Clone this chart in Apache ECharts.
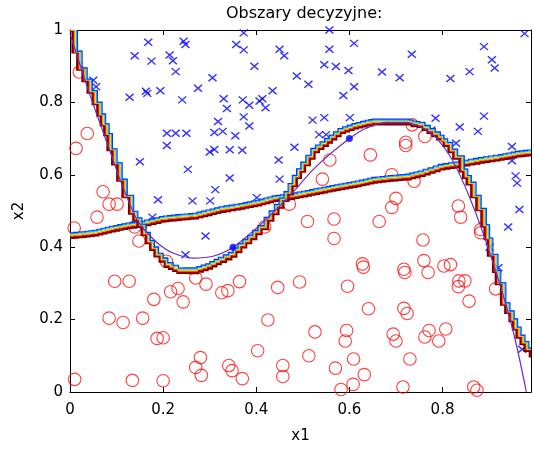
<!DOCTYPE html>
<html><head><meta charset="utf-8">
<script src="https://cdn.jsdelivr.net/npm/echarts@6/dist/echarts.min.js"></script>
<style>html,body{margin:0;padding:0;background:#fff}#c{width:534px;height:449px}</style>
</head><body><div id="c"></div>
<script>
// ---- tick labels ----
const xTickValues = [0, 0.2, 0.4, 0.6, 0.8];
const yTickValues = [0, 0.2, 0.4, 0.6, 0.8, 1];

// ---- class "x" samples (blue crosses) ----
const crossX1 = [0.168,0.244,0.248,0.357,0.139,0.175,0.214,0.221,0.227,0.306,0.050,0.056,0.275,0.128,0.163,0.166,0.194,0.241,0.330,0.337,0.318,0.208,0.227,0.250,0.310,0.328,0.355,0.208,0.300,0.310,0.343,0.150,0.253,0.343,0.312,0.189,0.263,0.301,0.177,0.291,0.248,
0.373,0.557,0.610,0.373,0.450,0.460,0.557,0.396,0.546,0.571,0.598,0.670,0.708,0.734,0.487,0.512,0.610,0.435,0.587,0.371,0.385,0.407,0.413,0.420,0.373,0.385,0.521,0.546,0.601,0.535,0.550,0.482,0.370,0.448,0.450,0.401,
0.976,0.889,0.906,0.912,0.858,0.817,0.785,0.889,0.776,0.837,0.876,0.829,0.949,0.949,0.957,0.960,0.965,0.941,0.920,0.971,0.901];
const crossX2 = [0.966,0.969,0.960,0.960,0.929,0.914,0.931,0.915,0.885,0.868,0.861,0.843,0.839,0.814,0.831,0.825,0.832,0.807,0.810,0.783,0.747,0.715,0.715,0.715,0.717,0.720,0.708,0.681,0.663,0.670,0.669,0.636,0.615,0.591,0.559,0.531,0.528,0.528,0.483,0.431,0.379,
0.992,1.0,0.963,0.945,0.947,0.929,0.947,0.900,0.904,0.899,0.888,0.884,0.868,0.933,0.873,0.850,0.843,0.832,0.819,0.807,0.792,0.804,0.810,0.785,0.760,0.735,0.751,0.758,0.758,0.711,0.711,0.676,0.668,0.641,0.588,0.537,
0.990,0.954,0.918,0.895,0.885,0.866,0.756,0.762,0.724,0.732,0.720,0.687,0.678,0.639,0.597,0.577,0.504,0.456,0.343,0.118,0.400];

// ---- class "o" samples (red circles) ----
const circleX1 = [0.020,0.037,0.013,0.071,0.084,0.101,0.058,0.009,0.139,0.148,0.207,0.096,0.127,0.270,0.292,0.232,0.216,0.180,0.243,0.326,0.339,0.364,0.084,0.114,0.156,0.187,0.200,0.280,0.270,0.282,0.341,0.348,0.370,0.010,0.134,0.200,
0.446,0.493,0.596,0.628,0.630,0.717,0.719,0.641,0.717,0.724,0.425,0.526,0.594,0.591,0.694,0.700,0.403,0.513,0.609,0.730,0.457,0.457,0.570,0.632,0.608,0.582,0.715,
0.760,0.769,0.803,0.817,0.835,0.848,0.834,0.857,0.771,0.762,0.807,0.792,0.867,0.874,0.914,
0.735,0.721,0.721,0.558,0.645,0.542,0.691,0.739,0.700,0.691,0.471,0.567,0.510,0.664,0.567,0.418,0.762,0.834,0.839,0.882,0.882,0.758];
const circleX2 = [0.884,0.714,0.673,0.553,0.519,0.519,0.483,0.453,0.456,0.417,0.361,0.306,0.306,0.315,0.298,0.286,0.277,0.256,0.249,0.274,0.280,0.305,0.204,0.192,0.204,0.148,0.150,0.095,0.068,0.046,0.073,0.059,0.037,0.035,0.032,0.031,
0.289,0.304,0.292,0.354,0.345,0.339,0.330,0.230,0.231,0.217,0.199,0.166,0.170,0.141,0.160,0.141,0.114,0.100,0.091,0.091,0.073,0.043,0.066,0.048,0.021,0.007,0.014,
0.363,0.330,0.348,0.352,0.307,0.307,0.291,0.251,0.170,0.152,0.174,0.141,0.014,0.005,0.285,
0.738,0.690,0.681,0.641,0.655,0.588,0.600,0.582,0.535,0.510,0.519,0.478,0.471,0.471,0.424,0.456,0.706,0.514,0.483,0.449,0.440,0.420];

// ---- nonlinear classifier decision boundary (contour band) ----
const sBoundX1 = [0.000,0.011,0.021,0.032,0.043,0.054,0.064,0.079,0.086,0.096,0.107,0.118,0.132,0.150,0.168,0.186,0.207,0.232,0.264,0.293,0.321,0.343,0.364,0.385,0.407,0.421,0.443,0.464,0.482,0.500,0.521,0.550,0.578,0.607,0.635,0.650,0.690,0.721,0.735,0.749,0.771,0.792,0.807,0.828,0.842,0.857,0.867,0.878,0.889,0.896,0.903,0.914,0.920,0.931,0.949,0.964,0.981,0.992];
const sBoundX2 = [1.000,0.940,0.893,0.862,0.830,0.798,0.766,0.712,0.670,0.631,0.586,0.541,0.496,0.460,0.415,0.379,0.352,0.336,0.336,0.348,0.366,0.380,0.405,0.428,0.455,0.478,0.514,0.550,0.595,0.631,0.668,0.695,0.722,0.735,0.744,0.747,0.747,0.747,0.742,0.739,0.722,0.704,0.685,0.649,0.613,0.577,0.541,0.505,0.460,0.424,0.379,0.334,0.300,0.244,0.199,0.154,0.118,0.100];

// ---- linear classifier decision boundary (contour band) ----
const lBoundX1 = [0.000,0.025,0.050,0.086,0.121,0.150,0.193,0.228,0.264,0.293,0.321,0.364,0.400,0.435,0.471,0.507,0.542,0.578,0.614,0.649,0.685,0.721,0.749,0.792,0.835,0.878,0.921,0.957,0.992];
const lBoundX2 = [0.433,0.436,0.440,0.451,0.460,0.465,0.478,0.483,0.487,0.496,0.505,0.514,0.523,0.535,0.541,0.550,0.559,0.568,0.576,0.586,0.591,0.595,0.604,0.622,0.631,0.641,0.649,0.658,0.663];

// ---- true boundary (purple curve) ----
const trueX1 = [0.000,0.020,0.043,0.065,0.086,0.105,0.125,0.143,0.164,0.193,0.221,0.264,0.307,0.350,0.407,0.471,0.528,0.600,0.635,0.680,0.720,0.760,0.785,0.821,0.860,0.903,0.949,0.980];
const trueX2 = [0.990,0.910,0.820,0.740,0.665,0.595,0.530,0.478,0.442,0.406,0.384,0.370,0.375,0.400,0.460,0.541,0.622,0.700,0.728,0.745,0.745,0.728,0.704,0.641,0.532,0.379,0.181,0.000];

// ---- highlighted reference points ----
const refX1 = [0.35, 0.60];
const refX2 = [0.40, 0.70];

const XMAX = 0.99;
const FONT = 'DejaVu Sans';
const pair = (a, b) => a.map((v, i) => [v, b[i]]);
const isTick = (v, list) => list.some(t => Math.abs(t - v) < 1e-6);

const bandColors = ['#7a0000', '#d40000', '#ff8a00', '#e6e600', '#00c8ff', '#0033ff'];
const bandOffsets = [-2.6, -1.5, -0.5, 0.5, 1.5, 2.5];
const bandWidths = [2.4, 1.1, 1.1, 1.1, 1.1, 1.1];
const STAIR_PX = 4.5; // pixel size of the contour grid steps

function bandSeries(xs, ys) {
  return {
    type: 'custom', coordinateSystem: 'cartesian2d', xAxisIndex: 0, yAxisIndex: 0,
    data: pair(xs, ys), encode: { x: 0, y: 1 }, z: 4, silent: true, clip: true,
    renderItem: function (params, api) {
      if (params.dataIndex !== 0) return null;
      const pts = xs.map((x, i) => api.coord([x, ys[i]]));
      const n = pts.length;
      const normals = pts.map((p, i) => {
        const a = pts[Math.max(0, i - 1)], b = pts[Math.min(n - 1, i + 1)];
        const tx = b[0] - a[0], ty = b[1] - a[1];
        const L = Math.hypot(tx, ty) || 1;
        return [ty / L, -tx / L];
      });
      const children = bandColors.map((c, k) => {
        const off = bandOffsets[k];
        const q = pts.map((p, i) => [p[0] + normals[i][0] * off, p[1] + normals[i][1] * off]);
        const path = [q[0]];
        let prev = q[0];
        for (let i = 1; i < n; i++) {
          const a = q[i - 1], b = q[i];
          const m = Math.max(1, Math.round(Math.abs(b[0] - a[0]) / STAIR_PX));
          for (let j = 1; j <= m; j++) {
            const t = j / m;
            const p = [a[0] + (b[0] - a[0]) * t, a[1] + (b[1] - a[1]) * t];
            path.push([p[0], prev[1]], p);
            prev = p;
          }
        }
        return { type: 'polyline', shape: { points: path }, style: { stroke: c, fill: null, lineWidth: bandWidths[k] }, silent: true };
      });
      return { type: 'group', children: children };
    }
  };
}

const axisCommon = {
  type: 'value',
  axisLine: { show: true, onZero: false, lineStyle: { color: '#000', width: 1 } },
  axisTick: { show: true, inside: true, length: 5, lineStyle: { color: '#000' } },
  splitLine: { show: false }
};

const chart = echarts.init(document.getElementById('c'), null, { renderer: 'canvas' });
chart.setOption({
  animation: false,
  backgroundColor: '#fff',
  title: {
    text: 'Obszary decyzyjne:', left: 221, top: 1,
    textStyle: { fontFamily: FONT, fontSize: 16, fontWeight: 'normal', color: '#000' }
  },
  grid: { left: 70, top: 30, width: 463, height: 370, containLabel: false },
  xAxis: [
    Object.assign({}, axisCommon, {
      min: 0, max: XMAX, interval: 0.2, position: 'bottom',
      axisLabel: { color: '#000', fontFamily: FONT, fontSize: 15, margin: 11,
        formatter: v => isTick(v, xTickValues) ? String(+v.toFixed(1)) : '' },
      name: 'x1', nameLocation: 'middle', nameGap: 37,
      nameTextStyle: { fontFamily: FONT, fontSize: 15, color: '#000' }
    }),
    Object.assign({}, axisCommon, {
      min: 0, max: XMAX, interval: 0.2, position: 'top', axisLabel: { show: false }
    })
  ],
  yAxis: [
    Object.assign({}, axisCommon, {
      min: 0, max: 1, interval: 0.2, position: 'left',
      axisLabel: { color: '#000', fontFamily: FONT, fontSize: 15, margin: 7,
        formatter: v => isTick(v, yTickValues) ? String(+v.toFixed(1)) : '' },
      name: 'x2', nameLocation: 'middle', nameGap: 43, nameRotate: 90,
      nameTextStyle: { fontFamily: FONT, fontSize: 15, color: '#000' }
    }),
    Object.assign({}, axisCommon, {
      min: 0, max: 1, interval: 0.2, position: 'right', axisLabel: { show: false }
    })
  ],
  series: [
    {
      type: 'scatter', name: 'o', data: pair(circleX1, circleX2), z: 2,
      symbol: 'circle', symbolSize: 12.5,
      itemStyle: { color: 'rgba(0,0,0,0)', borderColor: '#ff1010', borderWidth: 1.1 }
    },
    {
      type: 'scatter', name: 'x', data: pair(crossX1, crossX2), z: 3,
      symbol: 'path://M0,0L10,10M10,0L0,10', symbolSize: [8, 7],
      itemStyle: { color: 'rgba(0,0,0,0)', borderColor: '#0000ff', borderWidth: 1.4 }
    },
    bandSeries(lBoundX1, lBoundX2),
    bandSeries(sBoundX1, sBoundX2),
    {
      type: 'line', name: 'true', data: pair(trueX1, trueX2), z: 6,
      smooth: 0.35, showSymbol: false, clip: true,
      lineStyle: { color: '#6a2ccc', width: 1.2 }
    },
    {
      type: 'scatter', name: 'ref', data: pair(refX1, refX2), z: 7,
      symbol: 'circle', symbolSize: 7, itemStyle: { color: '#0000ff' }
    }
  ]
});
</script>
</body></html>
